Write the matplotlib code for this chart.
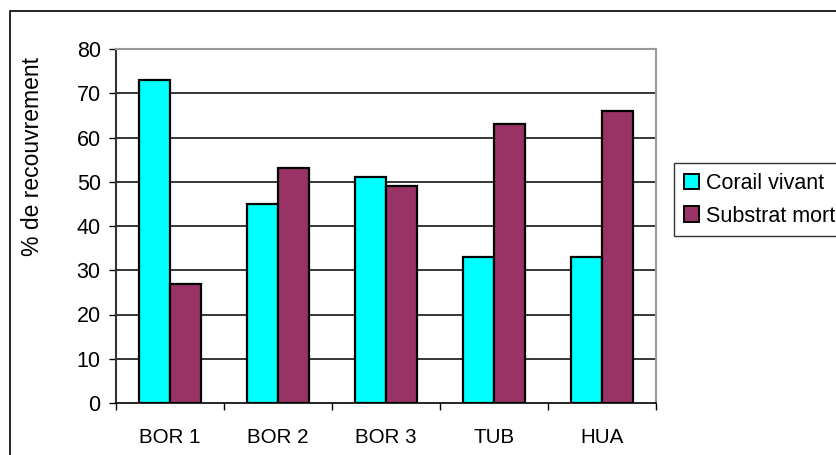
import matplotlib.pyplot as plt
import numpy as np
from matplotlib.patches import Patch, Rectangle

plt.rcParams['font.family'] = ['Liberation Sans', 'DejaVu Sans']

# data
sites = ['BOR 1', 'BOR 2', 'BOR 3', 'TUB', 'HUA']
corail_vivant = [73, 45, 51, 33, 33]
substrat_mort = [27, 53, 49, 63, 66]
series_names = ['Corail vivant', 'Substrat mort']
colors = ['#00FFFF', '#993366']

fig = plt.figure(figsize=(8.37, 4.55), dpi=100)
ax = fig.add_axes([116 / 837, 52 / 455, 540 / 837, 354 / 455])

# outer chart border (right and bottom fall off the picture)
fig.patches.append(Rectangle((10 / 837, -0.1), 1.2, (444 / 455) + 0.1,
                             transform=fig.transFigure, fill=False,
                             edgecolor='black', linewidth=1.2))

x = np.arange(len(sites))
w = 0.287
ax.bar(x - w / 2, corail_vivant, w, color=colors[0], edgecolor='black', linewidth=1.6, zorder=3)
ax.bar(x + w / 2, substrat_mort, w, color=colors[1], edgecolor='black', linewidth=1.6, zorder=3)

ax.set_xlim(-0.5, len(sites) - 0.5)
ax.set_ylim(0, 80)
ax.set_yticks(range(0, 81, 10))
ax.tick_params(axis='y', labelsize=15.5, length=5, width=1, direction='out', pad=6)

# category labels centred, tick marks on category boundaries
ax.set_xticks(x)
ax.set_xticklabels(sites, fontsize=14.8)
ax.tick_params(axis='x', which='major', length=0, pad=18)
ax.set_xticks(np.arange(-0.5, len(sites)), minor=True)
ax.tick_params(axis='x', which='minor', length=5, width=1, direction='out')

# gridlines (top edge is the grey plot border)
for v in range(10, 80, 10):
    ax.axhline(v, color='black', linewidth=1.1, zorder=1)

ax.spines['top'].set_color('#999999')
ax.spines['right'].set_color('#999999')
ax.spines['top'].set_linewidth(1.5)
ax.spines['right'].set_linewidth(1.5)
ax.spines['left'].set_color('#333333')
ax.spines['left'].set_linewidth(1.5)
ax.spines['bottom'].set_linewidth(1.2)

# y label sits above the axis centre, as in the original
ax.set_ylabel('% de recouvrement', fontsize=16.5)
ax.yaxis.set_label_coords(44 / 837, 1 - 156 / 455, transform=fig.transFigure)

handles = [Patch(facecolor=c, edgecolor='black', linewidth=1.4) for c in colors]
leg = fig.legend(handles, series_names, loc='upper left',
                 bbox_to_anchor=(674 / 837, 1 - 163 / 455), fontsize=15.5,
                 frameon=True, fancybox=False, handlelength=0.7, handleheight=0.7,
                 handletextpad=0.35, borderpad=0.45, labelspacing=0.55, borderaxespad=0)
leg.get_frame().set_edgecolor('black')
leg.get_frame().set_linewidth(1)

fig.savefig('out.png', dpi=100)
